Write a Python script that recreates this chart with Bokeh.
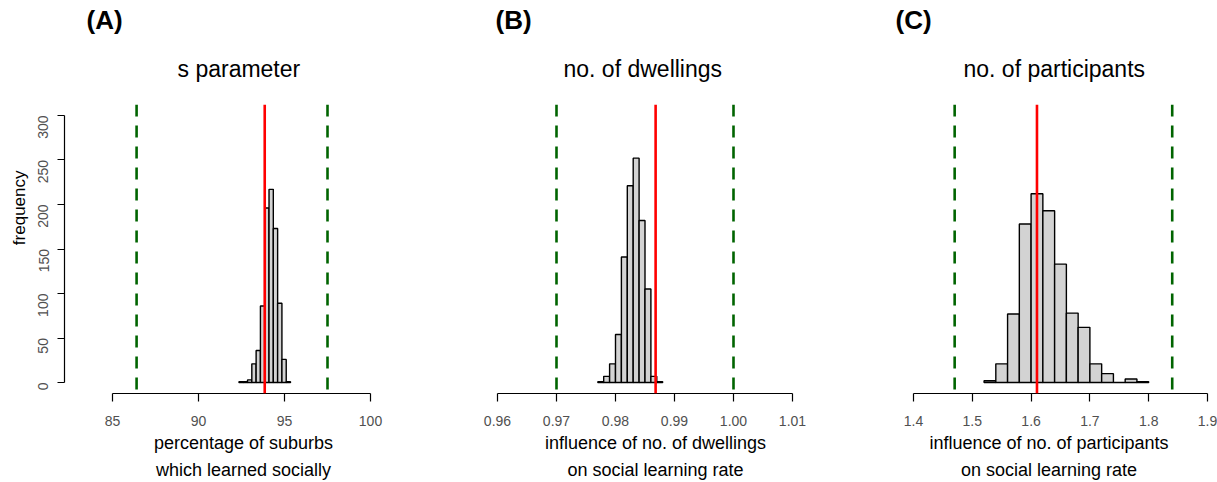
import math
from bokeh.plotting import figure
from bokeh.models import Range1d, Span, FixedTicker, Title, NumeralTickFormatter
from bokeh.layouts import row
from bokeh.embed import file_html
from bokeh.resources import INLINE

FONT = "Liberation Sans"

# ---------------- data ----------------
a_edges = [92.35, 92.60, 92.85, 93.10, 93.35, 93.60, 93.85, 94.10, 94.35, 94.60, 94.85, 95.10, 95.35]
a_counts = [1, 1, 3, 21, 36, 86, 196, 217, 173, 89, 26, 1]
a_red = 93.85
a_green = [86.4, 97.5]
a_ticks = [85, 90, 95, 100]

b_edges = [0.977, 0.978, 0.979, 0.980, 0.981, 0.982, 0.983, 0.984, 0.985, 0.986, 0.987, 0.988]
b_counts = [1, 7, 21, 54, 141, 221, 252, 182, 105, 7, 1]
b_red = 0.9868
b_green = [0.97, 1.00]
b_ticks = [0.96, 0.97, 0.98, 0.99, 1.00, 1.01]

c_edges = [1.52, 1.54, 1.56, 1.58, 1.60, 1.62, 1.64, 1.66, 1.68, 1.70, 1.72, 1.74, 1.76, 1.78, 1.80]
c_counts = [2, 21, 77, 178, 212, 193, 133, 78, 62, 21, 10, 0, 4, 1]
c_red = 1.61
c_green = [1.47, 1.84]
c_ticks = [1.4, 1.5, 1.6, 1.7, 1.8, 1.9]

y_ticks = [0, 50, 100, 150, 200, 250, 300]

H = 482


def panel(letter, title, edges, counts, red, greens, ticks, fmt, xr, xlabel,
          width, border_left, with_y, title_offset, letter_offset):
    p = figure(width=width, height=H, x_range=Range1d(*xr), y_range=Range1d(-12.27, 312.27),
               output_backend="svg", toolbar_location=None,
               y_axis_location="left" if with_y else None,
               min_border_left=border_left, min_border_right=0,
               min_border_top=104, min_border_bottom=80)
    p.outline_line_color = None
    p.grid.visible = False
    p.background_fill_color = "white"
    p.border_fill_color = "white"

    p.quad(left=edges[:-1], right=edges[1:], bottom=0, top=counts,
           fill_color="#d3d3d3", line_color="black", line_width=1.4)

    for g in greens:
        p.add_layout(Span(location=g, dimension="height", line_color="#006400",
                          line_width=2.6, line_dash="12 9"))
    p.add_layout(Span(location=red, dimension="height", line_color="#ff0000", line_width=2.6))

    xa = p.xaxis[0]
    xa.ticker = FixedTicker(ticks=ticks)
    xa.formatter = NumeralTickFormatter(format=fmt)
    xa.bounds = (ticks[0], ticks[-1])
    xa.minor_tick_line_color = None
    xa.major_tick_out = 8
    xa.major_tick_in = 0
    xa.axis_line_width = 1.2
    xa.major_tick_line_width = 1.2
    xa.major_label_standoff = 14
    xa.major_label_text_font = FONT
    xa.major_label_text_font_size = "14px"
    xa.major_label_text_color = "#505050"
    xa.axis_label = xlabel
    xa.axis_label_text_font = FONT
    xa.axis_label_text_font_size = "18px"
    xa.axis_label_text_font_style = "normal"
    xa.axis_label_text_color = "black"
    xa.axis_label_text_line_height = 1.35
    xa.axis_label_standoff = 4

    if with_y:
        ya = p.yaxis[0]
        ya.ticker = FixedTicker(ticks=y_ticks)
        ya.bounds = (0, 300)
        ya.minor_tick_line_color = None
        ya.major_tick_out = 7
        ya.major_tick_in = 0
        ya.axis_line_width = 1.2
        ya.major_tick_line_width = 1.2
        ya.major_label_orientation = math.pi / 2
        ya.major_label_standoff = 14
        ya.major_label_text_font = FONT
        ya.major_label_text_font_size = "14px"
        ya.major_label_text_color = "#505050"
        # y axis title placed as a side title so it can sit where the original has it
        p.add_layout(Title(text="frequency", align="right", offset=66,
                           vertical_align="bottom", standoff=4,
                           text_font=FONT, text_font_size="17px",
                           text_font_style="normal", text_color="black"), "left")

    p.add_layout(Title(text=title, align="left", offset=title_offset,
                       vertical_align="top", text_color="black",
                       text_font=FONT, text_font_size="23px", text_font_style="normal",
                       standoff=42), "above")
    p.add_layout(Title(text=letter, align="left", offset=letter_offset,
                       vertical_align="bottom", text_color="black",
                       text_font=FONT, text_font_size="26px", text_font_style="bold",
                       standoff=0), "above")
    return p


pa = panel("(A)", "s parameter", a_edges, a_counts, a_red, a_green, a_ticks, "0",
           (82.209, 103.023), "percentage of suburbs\nwhich learned socially",
           422, 64, True, 113, 22)
pb = panel("(B)", "no. of dwellings", b_edges, b_counts, b_red, b_green, b_ticks, "0.00",
           (0.95678, 1.01678), "influence of no. of dwellings\non social learning rate",
           410, 56, False, 85, 17)
pc = panel("(C)", "no. of participants", c_edges, c_counts, c_red, c_green, c_ticks, "0.0",
           (1.34388, 1.91701), "influence of no. of participants\non social learning rate",
           385, 48, False, 83, 15)

layout = row(pa, pb, pc)
open("out.html", "w").write(file_html(layout, INLINE))
